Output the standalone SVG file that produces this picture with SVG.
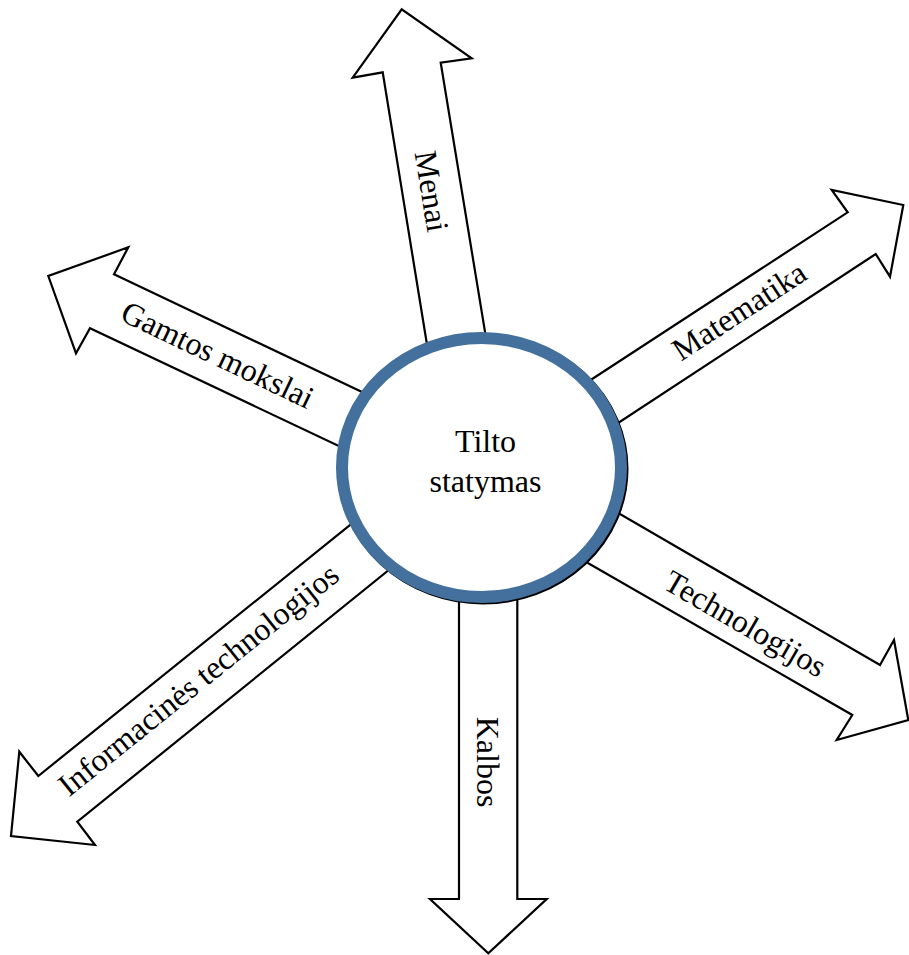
<svg xmlns="http://www.w3.org/2000/svg" width="909" height="955" viewBox="0 0 909 955">
<style>
.arrow{fill:#fff;stroke:#000;stroke-width:2.2;stroke-linejoin:miter}
.lbl{font-family:"Liberation Serif","Times New Roman",serif;font-size:32px;fill:#000;text-anchor:middle}
.ring{fill:#fff;stroke:#44709d;stroke-width:12}
.shadow{fill:none;stroke:#000;stroke-width:12}
</style>
<rect width="909" height="955" fill="#fff"/>
<g id="connectors">
  <g id="arrow-menai">
    <polygon class="arrow" points="436,400 382.7,72.3 352.7,77.7 401.7,9.3 471.7,58.3 440.7,62.7 494.6,390"/>
    <text class="lbl" transform="translate(421,193) rotate(80.7)">Menai</text>
  </g>
  <g id="arrow-matematika">
    <polygon class="arrow" points="580,448 875.7,254 890,276.7 903.3,205 831.7,190 847.7,212.3 560,400"/>
    <text class="lbl" transform="translate(745,320) rotate(-33.1)">Matematika</text>
  </g>
  <g id="arrow-gamtos">
    <polygon class="arrow" points="400,410 114,274.3 128.3,247.3 48.3,276 76,353.3 90,328.3 380,465.5"/>
    <text class="lbl" transform="translate(213,364.5) rotate(25.4)">Gamtos mokslai</text>
  </g>
  <g id="arrow-technologijos">
    <polygon class="arrow" points="580,490.8 880,665 894,640 908.3,720 836.7,740 852.3,715 560,547"/>
    <text class="lbl" transform="translate(740,633) rotate(30)">Technologijos</text>
  </g>
  <g id="arrow-info">
    <polygon class="arrow" points="390,492.8 38.3,776 19.3,751.7 11,836 95,845 77.3,821.7 420,544.8"/>
    <text class="lbl" transform="translate(205,688) rotate(-38.8)">Informacinės technologijos</text>
  </g>
  <g id="arrow-kalbos">
    <polygon class="arrow" points="459,560 459,899 430,899 488.3,953.3 546.7,899 517.3,899 517.3,560"/>
    <text class="lbl" transform="translate(477,762) rotate(90)">Kalbos</text>
  </g>
</g>
<g id="node-center">
  <ellipse class="shadow" cx="483" cy="469" rx="139.5" ry="129.5"/>
  <ellipse class="ring" cx="481.5" cy="467.5" rx="139.5" ry="129.5"/>
  <text class="lbl" x="485.5" y="452">Tilto</text>
  <text class="lbl" x="485.5" y="492">statymas</text>
</g>
</svg>
